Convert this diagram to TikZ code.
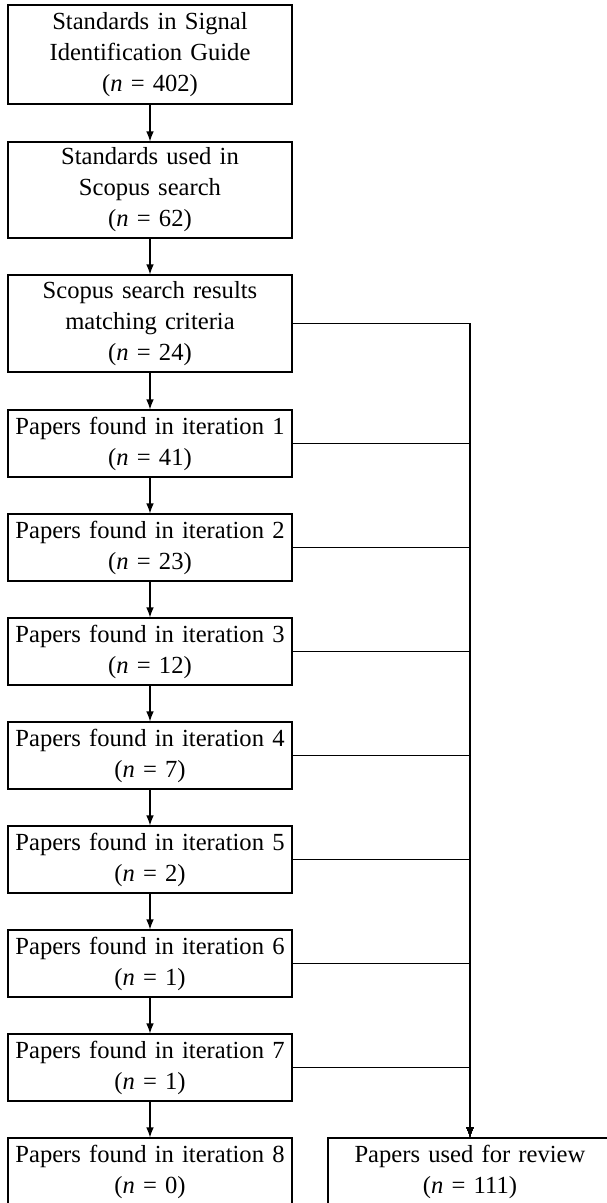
\documentclass[tikz,border=0pt]{standalone}
\usepackage{fontspec}
\setmainfont{Liberation Serif}
\usetikzlibrary{arrows.meta}
\begin{document}
\begin{tikzpicture}[
  box/.style={draw, line width=1.1pt, minimum width=284pt, text width=280pt,
    align=center, inner sep=0pt, font=\fontsize{24.6}{31}\selectfont},
  conn/.style={line width=1.1pt, -{Latex[length=10pt,width=7.5pt]}},
  side/.style={line width=1.1pt, -{Latex[length=10pt,width=7.5pt]}}
]
\useasboundingbox (0,0) rectangle (607pt,-1203pt);
\node[box, minimum height=99pt] (b1) at (150pt,-54.5pt) {Standards in Signal\\Identification Guide\\(\textit{n} = 402)};
\node[box, minimum height=96pt] (b2) at (150pt,-190pt) {Standards used in\\Scopus search\\(\textit{n} = 62)};
\node[box, minimum height=97pt] (b3) at (150pt,-323.5pt) {Scopus search results\\matching criteria\\(\textit{n} = 24)};
\node[box, minimum height=67pt] (i1) at (150pt,-443.5pt) {Papers found in iteration 1\\(\textit{n} = 41)};
\node[box, minimum height=67pt] (i2) at (150pt,-547.5pt) {Papers found in iteration 2\\(\textit{n} = 23)};
\node[box, minimum height=67pt] (i3) at (150pt,-651.5pt) {Papers found in iteration 3\\(\textit{n} = 12)};
\node[box, minimum height=67pt] (i4) at (150pt,-755.5pt) {Papers found in iteration 4\\(\textit{n} = 7)};
\node[box, minimum height=67pt] (i5) at (150pt,-859.5pt) {Papers found in iteration 5\\(\textit{n} = 2)};
\node[box, minimum height=67pt] (i6) at (150pt,-963.5pt) {Papers found in iteration 6\\(\textit{n} = 1)};
\node[box, minimum height=67pt] (i7) at (150pt,-1067.5pt) {Papers found in iteration 7\\(\textit{n} = 1)};
\node[box, minimum height=67pt] (i8) at (150pt,-1171.5pt) {Papers found in iteration 8\\(\textit{n} = 0)};
\node[box, minimum height=67pt] (rev) at (470pt,-1171.5pt) {Papers used for review\\(\textit{n} = 111)};
\draw[conn] (b1) -- (b2);
\draw[conn] (b2) -- (b3);
\draw[conn] (b3) -- (i1);
\draw[conn] (i1) -- (i2);
\draw[conn] (i2) -- (i3);
\draw[conn] (i3) -- (i4);
\draw[conn] (i4) -- (i5);
\draw[conn] (i5) -- (i6);
\draw[conn] (i6) -- (i7);
\draw[conn] (i7) -- (i8);
\foreach \s in {b3,i1,i2,i3,i4,i5,i6,i7}
  \draw[side] (\s.east) -| (rev.north);
\end{tikzpicture}
\end{document}
